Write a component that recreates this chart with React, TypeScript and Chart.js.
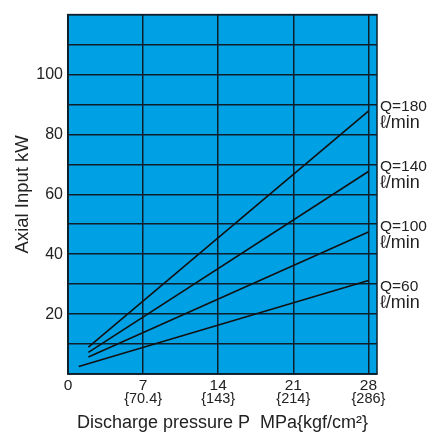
import { useEffect, useRef } from 'react';
import { Chart, registerables } from 'chart.js';

Chart.register(...registerables);

// Axis ticks
const pressureTicks = [0, 7, 14, 21, 28];
const kgfTickLabels = ['', '{70.4}', '{143}', '{214}', '{286}'];
const powerGrid = [0, 10, 20, 30, 40, 50, 60, 70, 80, 90, 100, 110, 120];
const powerTickLabels = [20, 40, 60, 80, 100];

// Flow-rate curves (pressure MPa -> axial input kW)
const q180X = [1.9, 28];
const q180Y = [9.0, 87.8];
const q140X = [1.9, 28];
const q140Y = [7.2, 67.6];
const q100X = [1.9, 28];
const q100Y = [5.7, 47.4];
const q60X = [1.0, 28];
const q60Y = [2.5, 31.2];

// Right-hand labels
const flowLabels = ['Q=180', 'Q=140', 'Q=100', 'Q=60'];
const flowUnit = 'ℓ/min';
const flowLabelY = [90, 70, 50, 30];

const xTitle = 'Discharge pressure P  MPa{kgf/cm²}';
const yTitle = 'Axial Input kW';

const FONT = "'Liberation Sans', Arial, Helvetica, sans-serif";
const TEXT = '#222222';
const GRID = '#0e1f2a';

const toPts = (xs: number[], ys: number[]) => xs.map((x, i) => ({ x, y: ys[i] }));

const decoPlugin = {
  id: 'deco',
  beforeDraw(chart: any) {
    const { ctx, chartArea } = chart;
    const { left, top, right, bottom } = chartArea;
    ctx.save();
    ctx.fillStyle = '#00A0E5';
    ctx.fillRect(left, top, right - left, bottom - top);
    ctx.restore();
  },
  afterDraw(chart: any) {
    const { ctx, chartArea, scales } = chart;
    const { left, top, right, bottom } = chartArea;
    ctx.save();
    ctx.strokeStyle = GRID;
    ctx.lineWidth = 1.5;
    ctx.strokeRect(left, top, right - left, bottom - top);

    // secondary x tick row (kgf/cm2)
    ctx.fillStyle = TEXT;
    ctx.font = `14.5px ${FONT}`;
    ctx.textAlign = 'center';
    ctx.textBaseline = 'middle';
    pressureTicks.forEach((v, i) => {
      if (!kgfTickLabels[i]) return;
      ctx.fillText(kgfTickLabels[i], scales.x.getPixelForValue(v), 399);
    });

    // flow labels
    ctx.textAlign = 'left';
    ctx.textBaseline = 'alphabetic';
    flowLabels.forEach((lab, i) => {
      const y = scales.y.getPixelForValue(flowLabelY[i]);
      ctx.font = `15.5px ${FONT}`;
      ctx.fillText(lab, right + 3, y + 6.5);
      ctx.font = `18px ${FONT}`;
      ctx.fillText(flowUnit, right + 3, y + 23.5);
    });
    ctx.restore();
  },
};

export default function App() {
  const ref = useRef<HTMLCanvasElement | null>(null);

  useEffect(() => {
    if (!ref.current) return;
    const lineDs = (label: string, xs: number[], ys: number[]) => ({
      label,
      data: toPts(xs, ys),
      borderColor: '#111111',
      borderWidth: 1.6,
      pointRadius: 0,
      fill: false,
      tension: 0,
    });
    const chart = new Chart(ref.current, {
      type: 'line',
      data: {
        datasets: [
          lineDs('Q=180', q180X, q180Y),
          lineDs('Q=140', q140X, q140Y),
          lineDs('Q=100', q100X, q100Y),
          lineDs('Q=60', q60X, q60Y),
        ],
      },
      plugins: [decoPlugin],
      options: {
        animation: false,
        responsive: false,
        maintainAspectRatio: false,
        layout: { padding: { top: 12, right: 56, left: 0, bottom: 0 } },
        plugins: { legend: { display: false }, tooltip: { enabled: false } },
        scales: {
          x: {
            type: 'linear',
            min: 0,
            max: 28.8,
            afterBuildTicks: (s: any) => {
              s.ticks = pressureTicks.map((v) => ({ value: v }));
            },
            afterFit: (s: any) => {
              s.height = 61;
            },
            grid: { color: GRID, lineWidth: 1.5, drawTicks: false },
            border: { color: GRID, width: 1.5 },
            ticks: {
              padding: 2,
              color: TEXT,
              font: { family: FONT, size: 15.5 },
              maxRotation: 0,
              callback: (v: any) => String(v),
            },
            title: {
              display: true,
              text: xTitle,
              color: TEXT,
              font: { family: FONT, size: 18 },
              padding: { top: 0, bottom: 1.5 },
            },
          },
          y: {
            type: 'linear',
            min: 0,
            max: 120,
            afterBuildTicks: (s: any) => {
              s.ticks = powerGrid.map((v) => ({ value: v }));
            },
            afterFit: (s: any) => {
              s.width = 68;
            },
            grid: { color: GRID, lineWidth: 1.5, drawTicks: false },
            border: { color: GRID, width: 1.5 },
            ticks: {
              padding: 5,
              color: TEXT,
              font: { family: FONT, size: 16 },
              callback: (v: any) => (powerTickLabels.includes(Number(v)) ? String(v) : ''),
            },
            title: {
              display: true,
              text: yTitle,
              color: TEXT,
              font: { family: FONT, size: 18.5 },
              padding: { top: 12, bottom: 0 },
            },
          },
        },
      },
    });
    return () => chart.destroy();
  }, []);

  return (
    <div style={{ position: 'absolute', left: 0, top: 0, width: 433, height: 435, background: '#fff' }}>
      <canvas ref={ref} width={433} height={435} style={{ display: 'block', width: 433, height: 435 }} />
    </div>
  );
}
